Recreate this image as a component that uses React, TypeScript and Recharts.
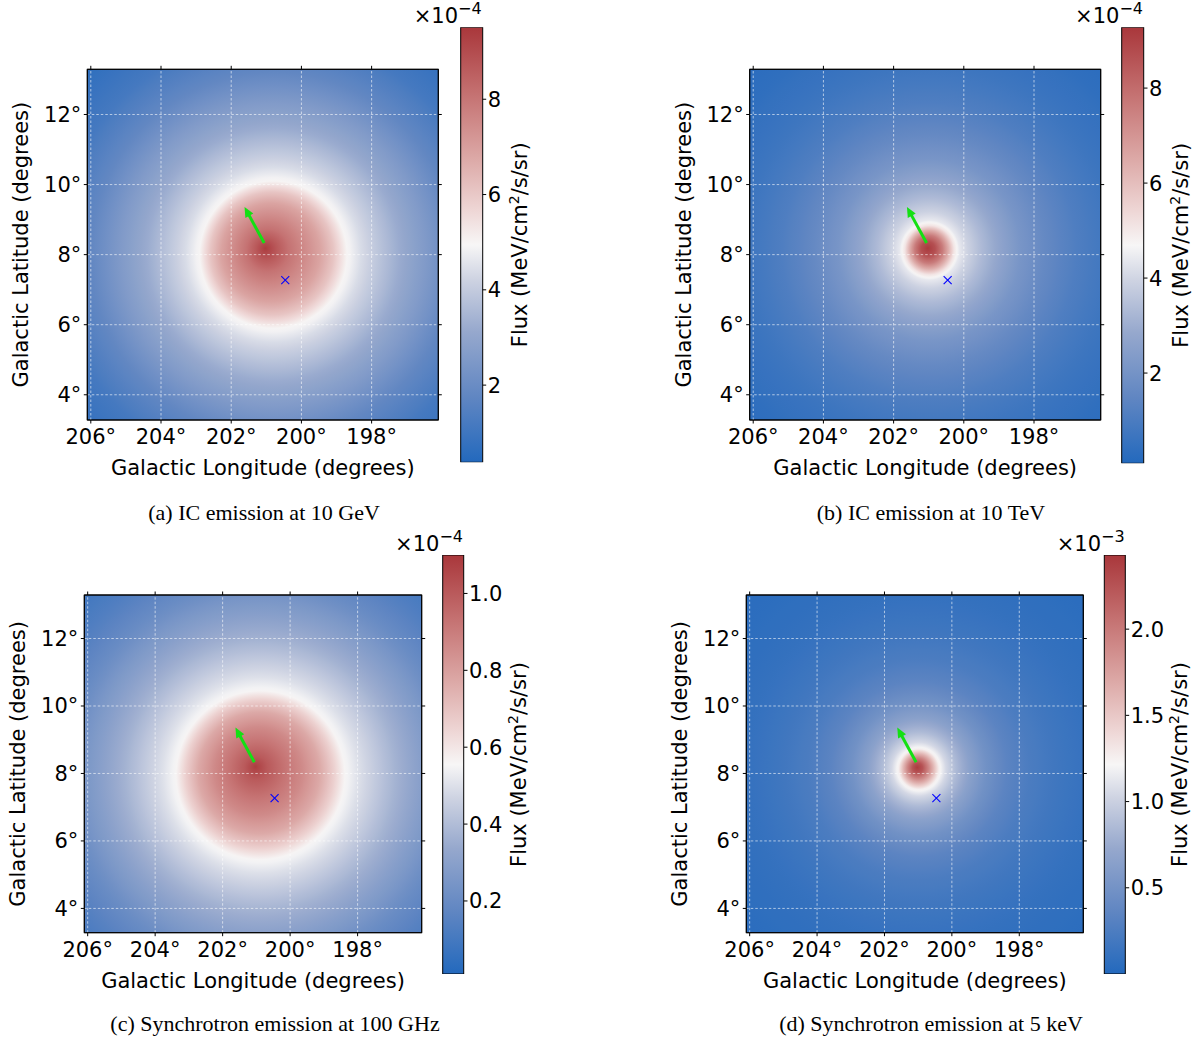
import React from 'react';
import { ComposedChart, XAxis, YAxis, ReferenceArea, ReferenceLine, Scatter, Bar } from 'recharts';

const PAGE_W = 1203;
const PAGE_H = 1040;
const SANS = '"DejaVu Sans", sans-serif';
const SERIF = '"Liberation Serif", "Times New Roman", serif';
const FS = 21;

// ---------------- data ----------------
const LON_TICKS = [206, 204, 202, 200, 198];
const LAT_TICKS = [4, 6, 8, 10, 12];
const LON_DOMAIN: [number, number] = [196.1, 206.1];
const LAT_DOMAIN: [number, number] = [3.28, 13.29];

const ARROW_TAIL = { x: 201.06, y: 8.33 };
const ARROW_HEAD = { x: 201.62, y: 9.36 };
const MARKER = [{ x: 200.46, y: 7.27 }];

const CAPTIONS = [
  '(a) IC emission at 10 GeV',
  '(b) IC emission at 10 TeV',
  '(c) Synchrotron emission at 100 GHz',
  '(d) Synchrotron emission at 5 keV',
];
const X_TITLE = 'Galactic Longitude (degrees)';
const Y_TITLE = 'Galactic Latitude (degrees)';

// radial flux profiles (radius in degrees from the emission centre), flux in colorbar units
const A_CENTER = [200.8, 8.0];
const A_PEAK = [201.03, 8.18];
const A_CORE = 2.1;
const A_RADII = [0, 0.3, 0.6, 1.0, 1.4, 1.75, 2.1, 2.5, 3.0, 3.6, 4.3, 5.2, 6.2, 7.6];
const A_FLUX = [9.4, 8.7, 8.1, 7.5, 6.9, 6.1, 5.0, 4.4, 3.85, 3.2, 2.6, 1.8, 1.15, 0.6];
const A_RANGE = [0.38, 9.51];
const A_CB_TICKS = [2, 4, 6, 8];

const B_CENTER = [200.98, 8.13];
const B_PEAK = [201.03, 8.18];
const B_CORE = 0.7;
const B_RADII = [0, 0.2, 0.4, 0.55, 0.7, 0.85, 1.1, 1.5, 2.0, 2.6, 3.3, 4.2, 5.2, 6.5, 7.8];
const B_FLUX = [9.2, 8.7, 7.6, 6.4, 5.1, 4.4, 3.9, 3.3, 2.7, 2.1, 1.6, 1.1, 0.7, 0.4, 0.2];
const B_RANGE = [0.1, 9.28];
const B_CB_TICKS = [2, 4, 6, 8];

const C_CENTER = [200.88, 7.95];
const C_PEAK = [201.03, 8.2];
const C_CORE = 2.5;
const C_RADII = [0, 0.35, 0.8, 1.3, 1.8, 2.2, 2.5, 2.9, 3.4, 4.0, 4.8, 5.7, 6.7, 7.8];
const C_FLUX = [1.08, 1.0, 0.93, 0.86, 0.77, 0.66, 0.56, 0.5, 0.44, 0.37, 0.29, 0.2, 0.13, 0.07];
const C_RANGE = [0.01, 1.1];
const C_CB_TICKS = [0.2, 0.4, 0.6, 0.8, 1.0];

const D_CENTER = [200.98, 8.13];
const D_PEAK = [201.03, 8.18];
const D_CORE = 0.6;
const D_RADII = [0, 0.15, 0.3, 0.45, 0.6, 0.8, 1.1, 1.5, 2.0, 2.6, 3.3, 4.2, 5.2, 6.5, 7.8];
const D_FLUX = [2.4, 2.25, 1.95, 1.6, 1.25, 1.05, 0.85, 0.65, 0.48, 0.34, 0.24, 0.16, 0.1, 0.06, 0.03];
const D_RANGE = [0.0, 2.43];
const D_CB_TICKS = [0.5, 1.0, 1.5, 2.0];

const EXPONENTS = ['−4', '−4', '−4', '−3'];

// colormap (vlag-like diverging blue-white-red)
const CMAP_POS = [0, 0.15, 0.3, 0.42, 0.5, 0.58, 0.7, 0.85, 1];
const CMAP_RGB = [
  [35, 105, 189],
  [96, 134, 194],
  [150, 168, 205],
  [206, 211, 226],
  [247, 246, 246],
  [238, 214, 213],
  [220, 168, 166],
  [196, 112, 112],
  [169, 55, 59],
];

function cmap(t: number): string {
  const v = Math.max(0, Math.min(1, t));
  let i = 0;
  while (i < CMAP_POS.length - 2 && v > CMAP_POS[i + 1]) i++;
  const f = (v - CMAP_POS[i]) / (CMAP_POS[i + 1] - CMAP_POS[i]);
  const a = CMAP_RGB[i];
  const b = CMAP_RGB[i + 1];
  const c = a.map((x, k) => Math.round(x + (b[k] - x) * f));
  return `rgb(${c[0]},${c[1]},${c[2]})`;
}

// ---------------- layout (style) ----------------
type Box = { x0: number; y0: number; x1: number; y1: number };
type PanelCfg = {
  id: string;
  plot: Box;
  cb: Box;
  cbLabelOff: number;
  capX: number;
  capY: number;
  center: number[];
  peak: number[];
  core: number;
  radii: number[];
  flux: number[];
  range: number[];
  cbTicks: number[];
  decimals: number;
  caption: string;
  exponent: string;
};

const PANELS: PanelCfg[] = [
  {
    id: 'a', plot: { x0: 87.3, y0: 69.3, x1: 438.3, y1: 420 }, cb: { x0: 460.7, y0: 27.3, x1: 482.7, y1: 462.3 },
    cbLabelOff: 44, capX: 264, capY: 520, center: A_CENTER, peak: A_PEAK, core: A_CORE, radii: A_RADII, flux: A_FLUX,
    range: A_RANGE, cbTicks: A_CB_TICKS, decimals: 0, caption: CAPTIONS[0], exponent: EXPONENTS[0],
  },
  {
    id: 'b', plot: { x0: 749.7, y0: 69.3, x1: 1100.7, y1: 420 }, cb: { x0: 1121.7, y0: 27.3, x1: 1144, y1: 463.3 },
    cbLabelOff: 44, capX: 931, capY: 520, center: B_CENTER, peak: B_PEAK, core: B_CORE, radii: B_RADII, flux: B_FLUX,
    range: B_RANGE, cbTicks: B_CB_TICKS, decimals: 0, caption: CAPTIONS[1], exponent: EXPONENTS[1],
  },
  {
    id: 'c', plot: { x0: 84.3, y0: 595, x1: 421.7, y1: 932.7 }, cb: { x0: 442.7, y0: 555, x1: 464, y1: 974 },
    cbLabelOff: 62, capX: 275, capY: 1031, center: C_CENTER, peak: C_PEAK, core: C_CORE, radii: C_RADII, flux: C_FLUX,
    range: C_RANGE, cbTicks: C_CB_TICKS, decimals: 1, caption: CAPTIONS[2], exponent: EXPONENTS[2],
  },
  {
    id: 'd', plot: { x0: 746.3, y0: 595, x1: 1083.3, y1: 932.7 }, cb: { x0: 1104.3, y0: 555, x1: 1125.7, y1: 974 },
    cbLabelOff: 61, capX: 931, capY: 1031, center: D_CENTER, peak: D_PEAK, core: D_CORE, radii: D_RADII, flux: D_FLUX,
    range: D_RANGE, cbTicks: D_CB_TICKS, decimals: 1, caption: CAPTIONS[3], exponent: EXPONENTS[3],
  },
];

const GREEN = '#14e014';
const tickStyle = { fontSize: FS, fontFamily: SANS, fill: '#000' };
const noTick = () => <g />;

function buildStops(radii: number[], flux: number[], rMax: number, norm: (f: number) => number) {
  const out: { o: number; c: string }[] = [];
  for (let i = 0; i < radii.length; i++) {
    if (radii[i] > rMax + 1e-9) break;
    if (i === radii.length - 1 || radii[i + 1] > rMax + 1e-9) {
      out.push({ o: radii[i] / rMax, c: cmap(norm(flux[i])) });
      break;
    }
    for (let k = 0; k < 4; k++) {
      const r = radii[i] + ((radii[i + 1] - radii[i]) * k) / 4;
      const f = flux[i] + ((flux[i + 1] - flux[i]) * k) / 4;
      out.push({ o: r / rMax, c: cmap(norm(f)) });
    }
  }
  return out;
}

function heatShape(p: PanelCfg) {
  return (props: any) => {
    const { x, y, width, height } = props;
    const sx = width / (LON_DOMAIN[1] - LON_DOMAIN[0]);
    const sy = height / (LAT_DOMAIN[1] - LAT_DOMAIN[0]);
    const px = (lon: number) => x + (LON_DOMAIN[1] - lon) * sx;
    const py = (lat: number) => y + (LAT_DOMAIN[1] - lat) * sy;
    const s = (sx + sy) / 2;
    const norm = (f: number) => (f - p.range[0]) / (p.range[1] - p.range[0]);
    const rMax = p.radii[p.radii.length - 1];
    const outer = buildStops(p.radii, p.flux, rMax, norm);
    const inner = buildStops(p.radii, p.flux, p.core, norm);
    const cx = px(p.center[0]);
    const cy = py(p.center[1]);
    return (
      <g>
        <defs>
          <radialGradient id={`heat-${p.id}-o`} gradientUnits="userSpaceOnUse" cx={cx} cy={cy} r={rMax * s}>
            {outer.map((st, i) => (
              <stop key={i} offset={st.o} stopColor={st.c} />
            ))}
          </radialGradient>
          <radialGradient
            id={`heat-${p.id}-i`}
            gradientUnits="userSpaceOnUse"
            cx={cx}
            cy={cy}
            r={p.core * s}
            fx={px(p.peak[0])}
            fy={py(p.peak[1])}
          >
            {inner.map((st, i) => (
              <stop key={i} offset={st.o} stopColor={st.c} />
            ))}
          </radialGradient>
        </defs>
        <rect x={x} y={y} width={width} height={height} fill={`url(#heat-${p.id}-o)`} />
        <circle cx={cx} cy={cy} r={p.core * s} fill={`url(#heat-${p.id}-i)`} />
        <rect x={x} y={y} width={width} height={height} fill="none" stroke="#000" strokeWidth={1} />
      </g>
    );
  };
}

function arrowShape(props: any) {
  const { x1, y1, x2, y2 } = props;
  const dx = x2 - x1;
  const dy = y2 - y1;
  const len = Math.hypot(dx, dy) || 1;
  const ux = dx / len;
  const uy = dy / len;
  const hl = 10;
  const hw = 4.5;
  const bx = x2 - ux * hl;
  const by = y2 - uy * hl;
  const nx = -uy;
  const ny = ux;
  return (
    <g>
      <line x1={x1} y1={y1} x2={bx + ux * 1} y2={by + uy * 1} stroke={GREEN} strokeWidth={3} />
      <polygon
        points={`${x2},${y2} ${bx + nx * hw},${by + ny * hw} ${bx - nx * hw},${by - ny * hw}`}
        fill={GREEN}
      />
    </g>
  );
}

function crossShape(props: any) {
  const { cx, cy } = props;
  const h = 4;
  return (
    <g stroke="#0000ff" strokeWidth={1.1}>
      <line x1={cx - h} y1={cy - h} x2={cx + h} y2={cy + h} />
      <line x1={cx - h} y1={cy + h} x2={cx + h} y2={cy - h} />
    </g>
  );
}

const fmtDeg = (v: number) => `${v}°`;

function MapPanel({ p }: { p: PanelCfg }) {
  const yW = 60;
  const xH = 60;
  const topH = 10;
  const rightW = 10;
  const margin = {
    left: p.plot.x0 - yW,
    top: p.plot.y0 - topH,
    right: PAGE_W - p.plot.x1 - rightW,
    bottom: PAGE_H - p.plot.y1 - xH,
  };
  const midX = (p.plot.x0 + p.plot.x1) / 2;
  const midY = (p.plot.y0 + p.plot.y1) / 2;
  const xLabel = () => (
    <g>
      <text x={midX} y={p.plot.y1 + 55} textAnchor="middle" fontSize={FS} fontFamily={SANS} fill="#000">
        {X_TITLE}
      </text>
      <text x={p.capX} y={p.capY} textAnchor="middle" fontSize={22} fontFamily={SERIF} fill="#000">
        {p.caption}
      </text>
    </g>
  );
  const yx = p.plot.x0 - 59;
  const yLabel = () => (
    <text
      x={yx}
      y={midY}
      transform={`rotate(-90 ${yx} ${midY})`}
      textAnchor="middle"
      fontSize={FS}
      fontFamily={SANS}
      fill="#000"
    >
      {Y_TITLE}
    </text>
  );
  const gridStyle = { stroke: '#ffffff', strokeOpacity: 0.6, strokeDasharray: '2.5 2', strokeWidth: 1 };
  return (
    <div style={{ position: 'absolute', left: 0, top: 0 }}>
      <ComposedChart width={PAGE_W} height={PAGE_H} margin={margin}>
        <XAxis
          xAxisId={0}
          dataKey="x"
          type="number"
          domain={LON_DOMAIN}
          allowDataOverflow
          reversed
          ticks={LON_TICKS}
          tickFormatter={fmtDeg}
          orientation="bottom"
          height={xH}
          tickSize={3.5}
          tickMargin={6}
          tick={tickStyle}
          stroke="#000"
          axisLine={{ stroke: '#000' }}
          tickLine={{ stroke: '#000' }}
          interval={0}
          label={xLabel}
        />
        <XAxis
          xAxisId="top"
          dataKey="x"
          type="number"
          domain={LON_DOMAIN}
          allowDataOverflow
          reversed
          ticks={LON_TICKS}
          orientation="top"
          height={topH}
          tickSize={3.5}
          tick={noTick}
          axisLine={{ stroke: '#000' }}
          tickLine={{ stroke: '#000' }}
          interval={0}
        />
        <YAxis
          yAxisId={0}
          dataKey="y"
          type="number"
          domain={LAT_DOMAIN}
          allowDataOverflow
          ticks={LAT_TICKS}
          tickFormatter={fmtDeg}
          width={yW}
          tickSize={3.5}
          tickMargin={2.5}
          tick={tickStyle}
          axisLine={{ stroke: '#000' }}
          tickLine={{ stroke: '#000' }}
          interval={0}
          label={yLabel}
        />
        <YAxis
          yAxisId="right"
          dataKey="y"
          type="number"
          orientation="right"
          domain={LAT_DOMAIN}
          allowDataOverflow
          ticks={LAT_TICKS}
          width={rightW}
          tickSize={3.5}
          tick={noTick}
          axisLine={{ stroke: '#000' }}
          tickLine={{ stroke: '#000' }}
          interval={0}
        />
        <ReferenceArea
          xAxisId={0}
          yAxisId={0}
          x1={LON_DOMAIN[1]}
          x2={LON_DOMAIN[0]}
          y1={LAT_DOMAIN[0]}
          y2={LAT_DOMAIN[1]}
          shape={heatShape(p)}
          ifOverflow="visible"
        />
        {LON_TICKS.map((t) => (
          <ReferenceLine key={`gx${t}`} xAxisId={0} yAxisId={0} x={t} {...gridStyle} />
        ))}
        {LAT_TICKS.map((t) => (
          <ReferenceLine key={`gy${t}`} xAxisId={0} yAxisId={0} y={t} {...gridStyle} />
        ))}
        <ReferenceLine
          xAxisId={0}
          yAxisId={0}
          segment={[ARROW_TAIL, ARROW_HEAD]}
          shape={arrowShape}
          ifOverflow="visible"
        />
        <Scatter xAxisId={0} yAxisId={0} data={MARKER} dataKey="y" shape={crossShape} isAnimationActive={false} />
      </ComposedChart>
    </div>
  );
}

function colorbarShape(p: PanelCfg) {
  return (props: any) => {
    const { x, y, width, height } = props;
    const gid = `cb-${p.id}`;
    return (
      <g>
        <defs>
          <linearGradient id={gid} x1="0" y1="1" x2="0" y2="0">
            {CMAP_POS.map((t, i) => (
              <stop key={i} offset={t} stopColor={cmap(t)} />
            ))}
          </linearGradient>
        </defs>
        <rect x={x} y={y} width={width} height={height} fill={`url(#${gid})`} stroke="#000" strokeWidth={1} />
      </g>
    );
  };
}

function ColorBar({ p }: { p: PanelCfg }) {
  const rightW = 100;
  const margin = { left: p.cb.x0, top: p.cb.y0, right: PAGE_W - p.cb.x1 - rightW, bottom: PAGE_H - p.cb.y1 };
  const lx = p.cb.x1 + p.cbLabelOff;
  const ly = (p.cb.y0 + p.cb.y1) / 2;
  const cbData = [{ name: 'flux', span: p.range }];
  const label = () => (
    <g>
      <text
        x={lx}
        y={ly}
        transform={`rotate(-90 ${lx} ${ly})`}
        textAnchor="middle"
        fontSize={FS}
        fontFamily={SANS}
        fill="#000"
      >
        <tspan>Flux (MeV/cm</tspan>
        <tspan dy={-8} fontSize={14}>
          2
        </tspan>
        <tspan dy={8}>/s/sr)</tspan>
      </text>
      <text x={p.cb.x1 - 1} y={p.cb.y0 - 4} textAnchor="end" fontSize={21} fontFamily={SANS} fill="#000">
        <tspan>×10</tspan>
        <tspan dy={-9} fontSize={16}>
          {p.exponent}
        </tspan>
      </text>
    </g>
  );
  return (
    <div style={{ position: 'absolute', left: 0, top: 0 }}>
      <ComposedChart
        width={PAGE_W}
        height={PAGE_H}
        margin={margin}
        data={cbData}
        barCategoryGap={0}
        barGap={0}
      >
        <XAxis xAxisId={0} type="category" dataKey="name" hide />
        <YAxis
          yAxisId={0}
          type="number"
          orientation="right"
          domain={p.range}
          allowDataOverflow
          ticks={p.cbTicks}
          tickFormatter={(v: number) => v.toFixed(p.decimals)}
          width={rightW}
          tickSize={3.5}
          tickMargin={1.5}
          tick={tickStyle}
          axisLine={false}
          tickLine={{ stroke: '#000' }}
          interval={0}
          label={label}
        />
        <Bar xAxisId={0} yAxisId={0} dataKey="span" shape={colorbarShape(p)} isAnimationActive={false} />
      </ComposedChart>
    </div>
  );
}

export default function App() {
  return (
    <div style={{ position: 'absolute', left: 0, top: 0, width: PAGE_W, height: PAGE_H, background: '#fff' }}>
      {PANELS.map((p) => (
        <React.Fragment key={p.id}>
          <MapPanel p={p} />
          <ColorBar p={p} />
        </React.Fragment>
      ))}
    </div>
  );
}
